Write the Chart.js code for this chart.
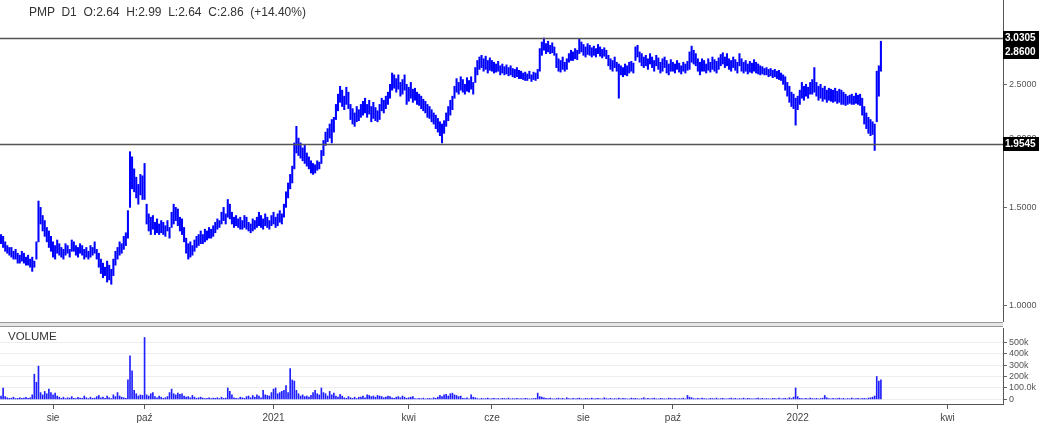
<!DOCTYPE html>
<html>
<head>
<meta charset="utf-8">
<script src="https://cdn.jsdelivr.net/npm/chart.js@4.4.1/dist/chart.umd.min.js"></script>
<style>
  body { margin: 0; background: #fff; font-family: "Liberation Sans", Arial, sans-serif; }
  #wrap { position: relative; width: 1062px; height: 434px; overflow: hidden; }
  #priceBox { position: absolute; left: 0; top: 0; width: 1062px; height: 322px; }
  #volBox { position: absolute; left: 0; top: 322px; width: 1062px; height: 112px; }
  #sep { position: absolute; left: 0; top: 322px; width: 1003px; height: 3px; border-top: 1px solid #999; border-bottom: 1px solid #999; background: #e6e6e6; }
  #title { position: absolute; left: 29px; top: 5px; font-size: 12px; color: #333; white-space: pre; }
  #volTitle { position: absolute; left: 8px; top: 330px; font-size: 11.5px; color: #333; }
</style>
</head>
<body>
<div id="wrap">
  <div id="priceBox"><canvas id="price"></canvas></div>
  <div id="volBox"><canvas id="vol"></canvas></div>
  <div id="sep"></div>
  <div id="title">PMP  D1  O:2.64  H:2.99  L:2.64  C:2.86  (+14.40%)</div>
  <div id="volTitle">VOLUME</div>
</div>
<script>
// daily bars, oldest first (one entry per trading day)
const highs = [
  1.34,1.33,1.30,1.28,1.27,1.27,1.25,1.26,1.24,1.23,1.25,1.24,1.22,1.23,1.21,1.22,1.20,
  1.30,1.54,1.50,1.45,1.42,1.38,
  1.36,1.33,1.30,1.28,1.31,1.29,
  1.27,1.26,1.29,1.28,1.26,1.31,1.30,1.28,1.27,1.29,1.28,1.26,1.27,1.25,1.28,1.27,1.30,1.26,
  1.24,1.21,1.19,1.17,1.20,1.18,1.16,1.21,
  1.25,1.27,1.30,1.29,1.33,1.35,
  1.48,1.89,1.85,
  1.76,1.70,1.65,1.72,1.71,1.80,
  1.52,1.46,1.44,1.45,1.41,1.43,1.40,1.42,1.41,1.39,1.42,1.38,
  1.47,1.52,1.50,1.49,1.44,1.43,1.38,
  1.32,1.29,1.30,1.28,1.31,
  1.33,1.34,1.36,1.34,1.37,1.36,1.38,1.37,1.39,
  1.41,1.43,1.42,1.47,1.50,1.46,1.55,1.52,
  1.47,1.44,1.45,1.43,1.44,1.42,1.45,
  1.44,1.41,1.40,1.43,1.42,1.44,1.47,1.45,1.43,1.46,1.44,1.42,1.45,1.47,1.44,1.46,1.48,1.46,
  1.52,1.60,1.66,1.72,1.78,
  1.96,2.10,
  2.00,1.96,1.92,1.94,1.88,1.85,1.82,1.80,
  1.79,1.82,1.81,
  1.90,1.98,2.05,2.08,2.12,2.16,2.18,
  2.30,2.40,2.48,2.44,2.38,2.47,2.42,
  2.30,2.26,2.22,2.28,
  2.25,2.30,2.33,2.36,2.30,2.34,2.28,2.32,2.27,2.24,
  2.30,2.36,2.34,2.38,2.42,
  2.50,2.62,2.60,2.56,2.60,2.52,
  2.55,2.60,2.50,2.47,2.52,2.45,
  2.46,2.42,2.40,2.38,2.35,2.33,2.30,2.28,2.25,2.22,
  2.20,2.17,2.14,2.12,2.15,
  2.22,2.28,2.34,2.38,
  2.48,2.56,2.52,2.58,2.55,2.50,2.57,2.54,2.58,2.52,
  2.68,2.76,2.80,2.82,2.78,2.81,2.76,2.79,
  2.76,2.74,2.72,2.75,2.70,2.72,2.69,2.71,2.68,2.70,2.67,2.66,2.68,2.65,
  2.64,2.62,2.63,2.61,2.64,2.60,2.63,2.62,2.66,
  2.90,2.98,3.03,2.96,2.99,2.94,2.97,2.92,
  2.84,2.78,2.76,2.80,2.74,2.78,
  2.84,2.88,2.86,2.90,2.88,
  3.02,2.98,2.95,2.92,2.96,2.94,2.91,2.93,2.90,2.95,2.92,2.89,2.91,2.88,
  2.82,2.78,2.76,2.80,2.74,2.72,
  2.70,2.68,2.72,2.70,2.74,2.75,2.73,
  2.92,2.94,2.86,
  2.84,2.80,2.82,2.78,2.84,2.80,2.76,2.82,2.79,2.74,2.78,2.80,2.76,2.72,2.77,
  2.74,2.72,2.76,2.73,2.70,2.74,2.72,2.75,
  2.86,2.93,2.88,2.84,2.78,2.74,2.78,
  2.76,2.72,2.78,2.74,2.80,2.77,2.75,2.79,2.83,2.85,2.80,2.84,2.78,2.76,2.80,2.77,2.74,
  2.84,2.78,2.74,2.76,2.72,2.75,2.73,2.77,2.74,2.72,2.70,
  2.69,2.67,2.68,2.66,2.67,2.65,2.66,2.64,2.65,2.62,
  2.60,2.58,2.52,2.48,2.42,2.40,2.36,2.38,
  2.44,2.52,2.48,2.50,2.47,2.52,2.55,2.68,
  2.52,2.48,2.50,2.46,2.48,2.44,2.46,2.45,2.44,2.46,2.43,2.45,2.44,2.42,2.40,2.38,2.39,2.40,2.38,2.41,2.39,2.40,
  2.36,2.28,2.22,2.18,2.16,2.14,
  2.12,
  2.64,2.70,2.99
];
const lows = [
  1.29,1.27,1.25,1.24,1.23,1.22,1.21,1.21,1.19,1.19,1.20,1.19,1.18,1.18,1.17,1.15,1.17,
  1.21,1.30,1.40,1.36,1.33,1.30,
  1.27,1.25,1.22,1.21,1.24,1.23,
  1.22,1.21,1.23,1.24,1.22,1.25,1.25,1.23,1.22,1.24,1.23,1.21,1.22,1.21,1.22,1.23,1.24,1.21,
  1.17,1.14,1.12,1.13,1.10,1.11,1.09,1.13,
  1.18,1.21,1.23,1.24,1.26,1.28,
  1.32,1.50,1.62,
  1.60,1.56,1.52,1.58,1.55,1.55,
  1.40,1.36,1.34,1.37,1.34,1.35,1.34,1.35,1.34,1.33,1.36,1.32,
  1.38,1.40,1.42,1.39,1.36,1.34,1.30,
  1.24,1.21,1.22,1.23,1.25,
  1.27,1.28,1.29,1.29,1.30,1.31,1.32,1.32,1.33,
  1.35,1.37,1.38,1.40,1.42,1.40,1.44,1.43,
  1.40,1.38,1.39,1.38,1.37,1.37,1.38,
  1.37,1.36,1.35,1.36,1.37,1.38,1.39,1.38,1.37,1.39,1.38,1.37,1.39,1.40,1.38,1.39,1.41,1.40,
  1.44,1.50,1.56,1.62,1.66,
  1.76,1.88,
  1.86,1.84,1.82,1.80,1.78,1.76,1.73,1.72,
  1.73,1.75,1.76,
  1.80,1.86,1.94,1.97,2.00,1.96,2.05,
  2.16,2.24,2.32,2.28,2.25,2.30,2.26,
  2.16,2.12,2.10,2.14,
  2.15,2.18,2.20,2.22,2.18,2.21,2.14,2.17,2.15,2.14,
  2.16,2.24,2.22,2.26,2.30,
  2.36,2.44,2.46,2.42,2.45,2.38,
  2.40,2.44,2.30,2.33,2.36,2.32,
  2.34,2.30,2.29,2.26,2.24,2.22,2.18,2.17,2.14,2.12,
  2.08,2.05,2.02,1.96,2.04,
  2.10,2.15,2.20,2.25,
  2.36,2.42,2.40,2.44,2.42,2.40,2.43,2.42,2.45,2.40,
  2.52,2.60,2.66,2.68,2.64,2.66,2.62,2.65,
  2.64,2.62,2.63,2.64,2.60,2.62,2.60,2.61,2.59,2.60,2.58,2.57,2.58,2.56,
  2.56,2.55,2.54,2.54,2.56,2.53,2.55,2.54,2.56,
  2.64,2.82,2.88,2.84,2.86,2.84,2.85,2.82,
  2.68,2.64,2.63,2.66,2.64,2.66,
  2.74,2.76,2.76,2.78,2.77,
  2.84,2.86,2.82,2.80,2.83,2.82,2.80,2.82,2.80,2.84,2.81,2.79,2.81,2.78,
  2.70,2.66,2.64,2.68,2.64,2.36,
  2.60,2.58,2.60,2.59,2.62,2.64,2.62,
  2.76,2.80,2.74,
  2.70,2.68,2.70,2.66,2.72,2.68,2.64,2.70,2.66,2.62,2.64,2.68,2.62,2.60,2.64,
  2.64,2.62,2.66,2.63,2.61,2.64,2.62,2.65,
  2.66,2.74,2.72,2.70,2.64,2.60,2.64,
  2.64,2.62,2.65,2.63,2.66,2.64,2.62,2.66,2.70,2.72,2.68,2.70,2.66,2.64,2.68,2.65,2.62,
  2.70,2.64,2.62,2.64,2.61,2.63,2.62,2.64,2.62,2.61,2.60,
  2.61,2.60,2.60,2.58,2.59,2.57,2.58,2.56,2.55,2.54,
  2.50,2.44,2.38,2.32,2.28,2.26,2.11,2.25,
  2.30,2.36,2.34,2.38,2.36,2.40,2.40,2.42,
  2.38,2.34,2.36,2.33,2.35,2.32,2.34,2.33,2.32,2.33,2.31,2.32,2.30,2.30,2.29,2.30,2.31,2.30,2.30,2.31,2.30,2.29,
  2.20,2.12,2.08,2.04,2.02,2.03,
  1.90,
  2.14,2.38,2.64
];
// volume in thousands of shares
const volumes = [
  30,100,25,15,10,12,20,8,10,15,10,12,18,10,14,
  40,220,150,290,60,40,70,50,90,60,40,55,30,20,
  10,20,8,15,12,25,10,8,18,12,10,30,15,8,20,10,12,25,35,15,20,10,30,15,8,40,25,60,30,20,15,10,
  170,380,250,80,50,30,40,35,540,
  40,30,50,60,25,15,30,20,10,15,25,60,90,50,40,55,45,50,30,20,25,15,35,20,10,15,20,12,8,10,15,8,12,10,15,8,20,10,12,
  100,70,40,15,10,8,20,15,10,25,30,15,35,20,40,30,15,80,40,35,30,60,90,100,50,60,70,80,120,60,
  270,170,160,80,50,30,40,25,30,20,35,60,80,50,40,100,60,50,30,70,40,55,30,20,45,30,15,10,25,15,10,20,8,20,
  20,30,15,40,35,25,30,20,35,30,25,15,20,30,25,15,10,20,25,15,30,20,10,15,20,25,
  8,5,10,6,12,5,8,10,6,15,10,
  20,35,25,40,45,30,50,55,40,35,25,30,
  10,8,15,6,
  40,20,15,
  8,5,10,6,8,12,5,8,10,6,8,5,10,8,6,12,5,8,6,10,5,8,6,10,8,5,6,8,
  10,55,25,20,15,10,8,12,6,
  5,8,12,6,10,5,15,8,6,10,5,8,12,6,5,10,8,6,12,5,8,10,6,5,15,8,6,10,5,8,
  6,12,5,10,8,6,5,12,8,10,6,5,8,15,6,10,5,8,12,6,5,10,8,6,5,12,8,6,10,5,8,6,12,5,
  35,20,15,
  8,6,10,5,12,8,6,5,10,8,6,12,5,8,10,6,5,8,12,6,10,5,8,6,12,5,10,8,6,5,
  8,12,6,10,5,8,6,5,10,8,6,12,5,8,10,6,15,8,
  20,100,25,10,
  8,6,10,5,12,8,6,10,5,8,12,
  35,
  15,8,6,10,5,8,12,6,10,5,8,6,12,5,8,10,6,
  8,10,6,12,15,20,30,
  200,160,170
];
// month ticks sit at the first trading day of the month (bar index)
const xTickIdx = [25, 69, 131, 196, 236, 280, 323, 383, 455];
const xTickLabels = ['sie', 'paź', '2021', 'kwi', 'cze', 'sie', 'paź', '2022', 'kwi'];
const priceTicks = [1.0, 1.5, 2.0, 2.5, 3.0];
const volTicks = [0, 100000, 200000, 300000, 400000, 500000];
const levelLines = [3.0305, 1.9545];
const priceMarkers = [3.0305, 2.86, 1.9545];

const FONT = '"Liberation Sans", Arial, sans-serif';
const X_MIN = -0.5, X_MAX = 481.7;
const dayIdx = highs.map((_, i) => i);

// fixed axis width, and no extra room for the end labels
const fitRightAxis = s => {
    s.width = 59;
    s.paddingTop = 0;
    s.paddingBottom = 0;
};

const levelsPlugin = {
    id: 'levels',
    afterDraw(chart) {
        const { ctx, chartArea, scales: { y } } = chart;
        ctx.save();
        levelLines.forEach(v => {
            const py = Math.round(y.getPixelForValue(v)) + 0.5;
            ctx.strokeStyle = '#555';
            ctx.lineWidth = 1.5;
            ctx.beginPath();
            ctx.moveTo(chartArea.left, py);
            ctx.lineTo(chartArea.right, py);
            ctx.stroke();
        });
        // black price boxes on the right axis
        let lastBottom = -100;
        ctx.font = 'bold 10px ' + FONT;
        ctx.textBaseline = 'middle';
        ctx.textAlign = 'left';
        priceMarkers.forEach(v => {
            let top = Math.round(y.getPixelForValue(v)) - 7;
            if (top < lastBottom) top = lastBottom;
            ctx.fillStyle = '#000';
            ctx.fillRect(chartArea.right, top, 36, 14);
            ctx.fillStyle = '#fff';
            ctx.fillText(v.toFixed(4), chartArea.right + 2, top + 7.5);
            lastBottom = top + 14;
        });
        ctx.restore();
    }
};

new Chart(document.getElementById('price'), {
    type: 'bar',
    data: {
        datasets: [{
            data: dayIdx.map(i => ({ x: i, y: [lows[i], highs[i]] })),
            backgroundColor: '#0000ff',
            barThickness: 1.4,
            grouped: false
        }]
    },
    options: {
        responsive: true,
        maintainAspectRatio: false,
        animation: false,
        layout: { padding: 0 },
        plugins: { legend: { display: false }, tooltip: { enabled: false } },
        scales: {
            x: { type: 'linear', min: X_MIN, max: X_MAX, offset: false, display: false },
            y: {
                type: 'logarithmic',
                position: 'right',
                min: 0.932,
                max: 3.548,
                afterBuildTicks: s => { s.ticks = priceTicks.map(v => ({ value: v })); },
                afterFit: fitRightAxis,
                grid: { drawOnChartArea: false, tickLength: 4, color: '#666' },
                border: { color: '#555', width: 1 },
                ticks: {
                    autoSkip: false,
                    padding: 2,
                    color: '#555',
                    font: { size: 9, family: FONT },
                    callback: v => Number(v).toFixed(4)
                }
            }
        }
    },
    plugins: [levelsPlugin]
});

new Chart(document.getElementById('vol'), {
    type: 'bar',
    data: {
        datasets: [{
            data: dayIdx.map(i => ({ x: i, y: volumes[i] * 1000 })),
            backgroundColor: '#2020ff',
            barThickness: 1,
            grouped: false
        }]
    },
    options: {
        responsive: true,
        maintainAspectRatio: false,
        animation: false,
        layout: { padding: { top: 6 } },
        plugins: { legend: { display: false }, tooltip: { enabled: false } },
        scales: {
            x: {
                type: 'linear',
                min: X_MIN,
                max: X_MAX,
                offset: false,
                afterBuildTicks: s => { s.ticks = xTickIdx.map(v => ({ value: v })); },
                afterFit: s => { s.height = 30; s.paddingLeft = 0; s.paddingRight = 0; },
                grid: { drawOnChartArea: false, offset: false, tickLength: 5, color: '#555' },
                border: { color: '#555' },
                ticks: {
                    autoSkip: false,
                    maxRotation: 0,
                    padding: 3,
                    color: '#444',
                    font: { size: 10, family: FONT },
                    callback: (v, i) => xTickLabels[i]
                }
            },
            y: {
                position: 'right',
                min: -39500,
                max: 622500,
                afterBuildTicks: s => { s.ticks = volTicks.map(v => ({ value: v })); },
                afterFit: fitRightAxis,
                grid: { color: '#eeeeee', tickColor: '#666', tickLength: 4 },
                border: { color: '#555' },
                ticks: {
                    autoSkip: false,
                    padding: 2,
                    color: '#555',
                    font: { size: 9, family: FONT },
                    callback: v => v === 0 ? '0' : (v === 100000 ? '100.0k' : (v / 1000) + 'k')
                }
            }
        }
    }
});
</script>
</body>
</html>
